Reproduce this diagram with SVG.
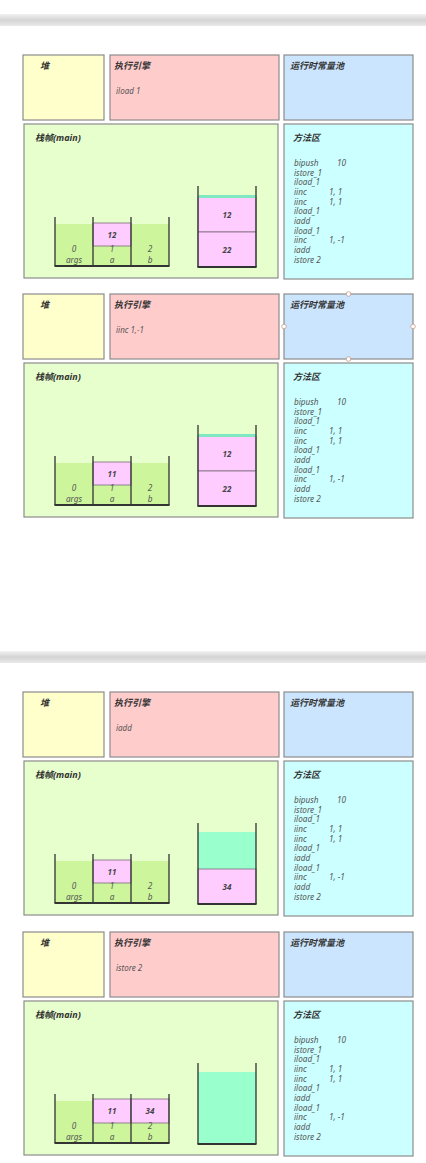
<svg xmlns="http://www.w3.org/2000/svg" width="426" height="1163" viewBox="0 0 426 1163">
<defs>
<linearGradient id="band" x1="0" y1="0" x2="0" y2="1">
<stop offset="0" stop-color="#f2f2f2"/>
<stop offset="0.5" stop-color="#d4d4d4"/>
<stop offset="1" stop-color="#e9e9e9"/>
</linearGradient>
<style>
.box{stroke:#8c8c8c;stroke-width:1.2}
.heap{fill:#ffffcc}
.eng{fill:#ffcccc}
.pool{fill:#cce5ff}
.frame{fill:#e6ffcc}
.meth{fill:#ccffff}
.h{font-family:"Noto Sans","Noto Sans CJK SC",sans-serif;font-size:9px;font-weight:bold;font-style:italic;fill:#333}
.b{font-family:"Noto Sans","Noto Sans CJK SC",sans-serif;font-size:8px;font-style:italic;fill:#555}
.m{font-family:"Noto Sans",sans-serif;font-size:8.2px;font-style:italic;fill:#555}
.n{font-family:"Noto Sans",sans-serif;font-size:8px;font-style:italic;font-weight:bold;fill:#444;text-anchor:middle}
.c{font-family:"Noto Sans",sans-serif;font-size:8.2px;font-style:italic;fill:#555;text-anchor:middle}
.green{fill:#ccf59c}
.pink{fill:#ffccff;stroke:#7a6a7a;stroke-width:0.8}
.teal{fill:#99ffcc}
.tealline{fill:#80e8c0}
.wall{stroke:#333;stroke-width:1.3;fill:none}
.floor{stroke:#333;stroke-width:2;fill:none}
.handle{fill:#fff;stroke:#c89a8a;stroke-width:0.8}
</style>
<g id="methodText">
<text class="m" x="294" y="166">bipush</text><text class="m" x="337" y="166">10</text>
<text class="m" x="294" y="175.7">istore_1</text>
<text class="m" x="294" y="185.3">iload_1</text>
<text class="m" x="294" y="195">iinc</text><text class="m" x="329" y="195">1, 1</text>
<text class="m" x="294" y="204.6">iinc</text><text class="m" x="329" y="204.6">1, 1</text>
<text class="m" x="294" y="214.3">iload_1</text>
<text class="m" x="294" y="223.9">iadd</text>
<text class="m" x="294" y="233.6">iload_1</text>
<text class="m" x="294" y="243.2">iinc</text><text class="m" x="329" y="243.2">1, -1</text>
<text class="m" x="294" y="252.9">iadd</text>
<text class="m" x="294" y="262.5">istore 2</text>
</g>
<g id="localWalls">
<path class="wall" d="M55 217V266M93 217V266M131 217V266M169 217V266"/>
<path class="floor" d="M54.5 266H169.5"/>
</g>
<g id="localLabels">
<text class="c" x="74" y="252">0</text><text class="c" x="74" y="263">args</text>
<text class="c" x="112" y="252">1</text><text class="c" x="112" y="263">a</text>
<text class="c" x="150" y="252">2</text><text class="c" x="150" y="263">b</text>
</g>
<g id="opWalls">
<path class="wall" d="M198 186V267M256 186V267"/>
<path class="floor" d="M197.5 267H256.5"/>
</g>
</defs>

<rect x="0" y="0" width="426" height="1163" fill="#ffffff"/>
<rect x="0" y="14" width="426" height="12" fill="url(#band)"/>
<rect x="0" y="651" width="426" height="12" fill="url(#band)"/>

<!-- Panel 1 -->
<g id="panel1">
<g id="heap1"><rect class="box heap" x="23" y="55" width="81" height="65"/><text class="h" x="40" y="69">堆</text></g>
<g id="engine1"><rect class="box eng" x="110" y="55" width="169" height="65"/><text class="h" x="114" y="69">执行引擎</text><text class="b" x="116" y="94">iload 1</text></g>
<g id="pool1"><rect class="box pool" x="284" y="55" width="129" height="65"/><text class="h" x="290" y="69">运行时常量池</text></g>
<g id="frame1"><rect class="box frame" x="24" y="124" width="254" height="154"/><text class="h" x="35" y="141">栈帧(main)</text>
<rect class="green" x="55" y="224" width="114" height="42"/>
<rect class="pink" x="93" y="223" width="38" height="23"/><text class="n" x="112" y="237.5">12</text>
<use href="#localWalls"/><use href="#localLabels"/>
<rect class="pink" x="198" y="197" width="58" height="35"/><rect class="pink" x="198" y="232" width="58" height="35"/>
<rect class="tealline" x="198" y="195" width="58" height="3"/>
<text class="n" x="227" y="218">12</text><text class="n" x="227" y="253">22</text>
<use href="#opWalls"/>
</g>
<g id="method1"><rect class="box meth" x="284" y="124" width="129" height="155"/><text class="h" x="293" y="141">方法区</text><use href="#methodText"/></g>
</g>

<!-- Panel 2 -->
<g id="panel2" transform="translate(0,239)">
<g id="heap2"><rect class="box heap" x="23" y="55" width="81" height="65"/><text class="h" x="40" y="69">堆</text></g>
<g id="engine2"><rect class="box eng" x="110" y="55" width="169" height="65"/><text class="h" x="114" y="69">执行引擎</text><text class="b" x="116" y="94">iinc 1,-1</text></g>
<g id="pool2"><rect class="box pool" x="284" y="55" width="129" height="65"/><text class="h" x="290" y="69">运行时常量池</text>
<circle class="handle" cx="348.5" cy="55" r="2.3"/><circle class="handle" cx="284" cy="87.5" r="2.3"/><circle class="handle" cx="413" cy="87.5" r="2.3"/><circle class="handle" cx="348.5" cy="120" r="2.3"/></g>
<g id="frame2"><rect class="box frame" x="24" y="124" width="254" height="154"/><text class="h" x="35" y="141">栈帧(main)</text>
<rect class="green" x="55" y="224" width="114" height="42"/>
<rect class="pink" x="93" y="223" width="38" height="23"/><text class="n" x="112" y="237.5">11</text>
<use href="#localWalls"/><use href="#localLabels"/>
<rect class="pink" x="198" y="197" width="58" height="35"/><rect class="pink" x="198" y="232" width="58" height="35"/>
<rect class="tealline" x="198" y="195" width="58" height="3"/>
<text class="n" x="227" y="218">12</text><text class="n" x="227" y="253">22</text>
<use href="#opWalls"/>
</g>
<g id="method2"><rect class="box meth" x="284" y="124" width="129" height="155"/><text class="h" x="293" y="141">方法区</text><use href="#methodText"/></g>
</g>

<!-- Panel 3 -->
<g id="panel3" transform="translate(0,637)">
<g id="heap3"><rect class="box heap" x="23" y="55" width="81" height="65"/><text class="h" x="40" y="69">堆</text></g>
<g id="engine3"><rect class="box eng" x="110" y="55" width="169" height="65"/><text class="h" x="114" y="69">执行引擎</text><text class="b" x="116" y="94">iadd</text></g>
<g id="pool3"><rect class="box pool" x="284" y="55" width="129" height="65"/><text class="h" x="290" y="69">运行时常量池</text></g>
<g id="frame3"><rect class="box frame" x="24" y="124" width="254" height="154"/><text class="h" x="35" y="141">栈帧(main)</text>
<rect class="green" x="55" y="224" width="114" height="42"/>
<rect class="pink" x="93" y="223" width="38" height="23"/><text class="n" x="112" y="237.5">11</text>
<use href="#localWalls"/><use href="#localLabels"/>
<rect class="teal" x="198" y="195" width="58" height="37"/>
<rect class="pink" x="198" y="232" width="58" height="35"/>
<text class="n" x="227" y="253">34</text>
<use href="#opWalls"/>
</g>
<g id="method3"><rect class="box meth" x="284" y="124" width="129" height="155"/><text class="h" x="293" y="141">方法区</text><use href="#methodText"/></g>
</g>

<!-- Panel 4 -->
<g id="panel4" transform="translate(0,877)">
<g id="heap4"><rect class="box heap" x="23" y="55" width="81" height="65"/><text class="h" x="40" y="69">堆</text></g>
<g id="engine4"><rect class="box eng" x="110" y="55" width="169" height="65"/><text class="h" x="114" y="69">执行引擎</text><text class="b" x="116" y="94">istore 2</text></g>
<g id="pool4"><rect class="box pool" x="284" y="55" width="129" height="65"/><text class="h" x="290" y="69">运行时常量池</text></g>
<g id="frame4"><rect class="box frame" x="24" y="124" width="254" height="154"/><text class="h" x="35" y="141">栈帧(main)</text>
<rect class="green" x="55" y="224" width="114" height="42"/>
<rect class="pink" x="93" y="222" width="38" height="24"/><text class="n" x="112" y="237">11</text>
<rect class="pink" x="131" y="222" width="38" height="24"/><text class="n" x="150" y="237">34</text>
<use href="#localWalls"/><use href="#localLabels"/>
<rect class="teal" x="198" y="195" width="58" height="72"/>
<use href="#opWalls"/>
</g>
<g id="method4"><rect class="box meth" x="284" y="124" width="129" height="155"/><text class="h" x="293" y="141">方法区</text><use href="#methodText"/></g>
</g>

<g id="connectors"/>
</svg>
